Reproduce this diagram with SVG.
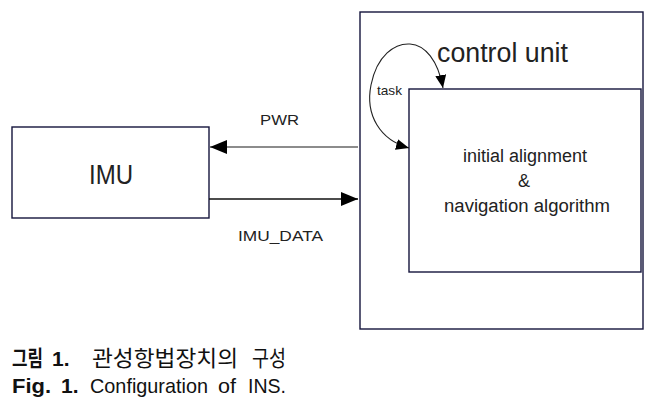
<svg xmlns="http://www.w3.org/2000/svg" width="663" height="406" viewBox="0 0 663 406">
<defs>
<marker id="ah" markerWidth="13" markerHeight="11" refX="13" refY="5.5" orient="auto-start-reverse" markerUnits="userSpaceOnUse"><path d="M0,0 L13,5.5 L0,11 Z" fill="#000"/></marker>
<marker id="ahb" markerWidth="17" markerHeight="14" refX="17" refY="7" orient="auto" markerUnits="userSpaceOnUse"><path d="M0,0 L17,7 L0,14 Z" fill="#000"/></marker>
</defs>
<style>
.box{fill:#fff;stroke:#14143c;stroke-width:1.4}
.t{font-family:"Liberation Sans","Noto Sans CJK KR",sans-serif;fill:#222}
.cap{font-family:"Liberation Sans","Noto Sans CJK KR",sans-serif;fill:#111;font-size:21px}
.ko{font-size:22px}
.b{font-weight:bold}
</style>
<rect width="663" height="406" fill="#fff"/>
<g id="control-unit">
<rect class="box" x="360" y="12" width="283" height="317"/>
<text class="t" x="437" y="62" font-size="27" textLength="131" lengthAdjust="spacingAndGlyphs">control unit</text>
</g>
<g id="algorithm">
<rect class="box" x="409" y="89" width="232" height="183"/>
<text class="t" x="463" y="162" font-size="18" textLength="124" lengthAdjust="spacingAndGlyphs">initial alignment</text>
<text class="t" x="524" y="187" font-size="18" text-anchor="middle">&amp;</text>
<text class="t" x="444" y="212" font-size="18" textLength="166" lengthAdjust="spacingAndGlyphs">navigation algorithm</text>
</g>
<g id="imu">
<rect class="box" x="12" y="127" width="197" height="91"/>
<text class="t" x="89" y="184" font-size="28" textLength="44" lengthAdjust="spacingAndGlyphs">IMU</text>
</g>
<g id="connectors">
<line x1="358" y1="147" x2="210" y2="147" stroke="#666" stroke-width="1.6" marker-end="url(#ahb)"/>
<line x1="209" y1="199" x2="358" y2="199" stroke="#111" stroke-width="1.3" marker-end="url(#ahb)"/>
<path d="M409,148 C380,140 365,115 371,85 C377,55 395,43 410,44 C425,45 438,60 443,88" fill="none" stroke="#222" stroke-width="1.1" marker-start="url(#ah)" marker-end="url(#ah)"/>
<text class="t" x="260" y="125" font-size="15" textLength="39" lengthAdjust="spacingAndGlyphs">PWR</text>
<text class="t" x="238" y="241" font-size="15" textLength="85" lengthAdjust="spacingAndGlyphs">IMU_DATA</text>
<text class="t" x="377" y="95" font-size="13" textLength="25" lengthAdjust="spacingAndGlyphs">task</text>
</g>
<g id="caption">
<text class="cap ko b" x="12" y="366" textLength="31" lengthAdjust="spacingAndGlyphs">그림</text>
<text class="cap b" x="52" y="366">1.</text>
<text class="cap ko" x="92" y="366" textLength="146" lengthAdjust="spacingAndGlyphs">관성항법장치의</text>
<text class="cap ko" x="252" y="366" textLength="34" lengthAdjust="spacingAndGlyphs">구성</text>
<text class="cap b" x="12" y="393" textLength="39" lengthAdjust="spacingAndGlyphs">Fig.</text>
<text class="cap b" x="61" y="393">1.</text>
<text class="cap" x="90" y="393" textLength="118" lengthAdjust="spacingAndGlyphs">Configuration</text>
<text class="cap" x="218" y="393" textLength="18" lengthAdjust="spacingAndGlyphs">of</text>
<text class="cap" x="248" y="393" textLength="38" lengthAdjust="spacingAndGlyphs">INS.</text>
</g>
</svg>
